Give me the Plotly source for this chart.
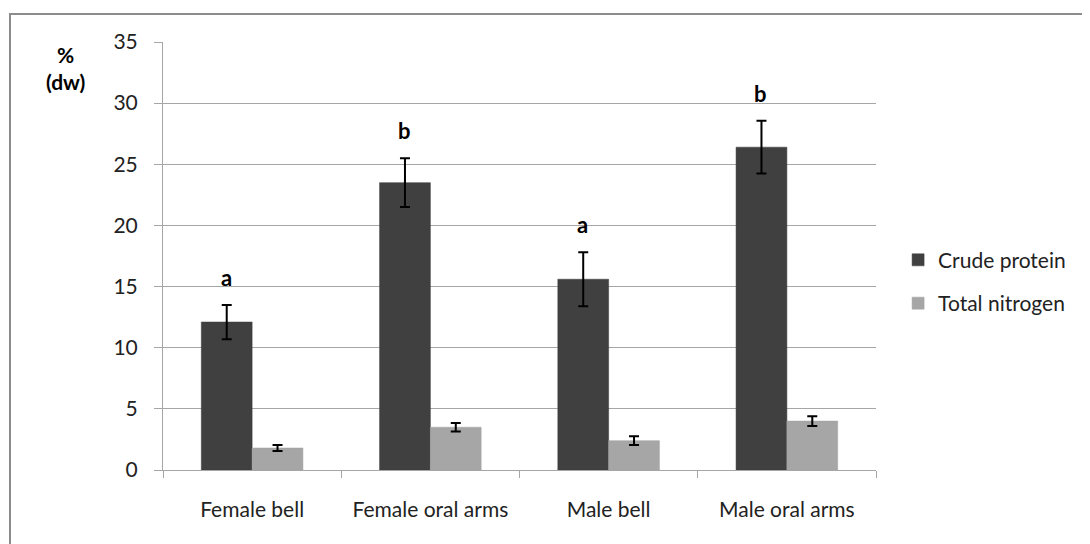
import plotly.graph_objects as go

categories = ["Female bell", "Female oral arms", "Male bell", "Male oral arms"]
crude_protein = [12.1, 23.5, 15.6, 26.4]
crude_protein_err = [1.4, 2.0, 2.2, 2.15]
total_nitrogen = [1.8, 3.5, 2.4, 4.0]
total_nitrogen_err = [0.25, 0.35, 0.35, 0.4]
letters = ["a", "b", "a", "b"]
y_ticks = [0, 5, 10, 15, 20, 25, 30, 35]

FONT = "Lato"
GRID = "#A6A6A6"

fig = go.Figure()
fig.add_trace(go.Bar(
    x=categories, y=crude_protein, name="Crude protein",
    marker=dict(color="#404040", line=dict(color="#3a3a3a", width=0.5)),
    error_y=dict(type="data", array=crude_protein_err, color="black", thickness=2, width=5),
    legendgroup="a",
))
fig.add_trace(go.Bar(
    x=categories, y=total_nitrogen, name="Total nitrogen",
    marker=dict(color="#A6A6A6", line=dict(color="#A0A0A0", width=0.5)),
    error_y=dict(type="data", array=total_nitrogen_err, color="black", thickness=2, width=5),
    legendgroup="b",
))

for c, v, e, t in zip(categories, crude_protein, crude_protein_err, letters):
    fig.add_annotation(x=c, y=v + e, text="<b>%s</b>" % t, showarrow=False,
                       xshift=-26, yshift=12, yanchor="bottom",
                       font=dict(family=FONT, size=22, color="black"))

fig.add_annotation(xref="paper", yref="paper", x=-0.137, y=0.94,
                   xanchor="center", yanchor="middle",
                   text="<b>%<br>(dw)</b>", showarrow=False,
                   font=dict(family=FONT, size=21, color="black"))

fig.add_shape(type="rect", xref="paper", yref="paper",
              x0=-0.2146, x1=1.5, y0=-0.5, y1=1.0654,
              line=dict(color="#8C8C8C", width=2), layer="below")

fig.update_layout(
    width=1090, height=544,
    margin=dict(l=155, r=222, t=34, b=82),
    paper_bgcolor="white", plot_bgcolor="white",
    barmode="group", bargap=0.43, bargroupgap=0,
    font=dict(family=FONT, size=20, color="#222"),
    showlegend=True,
    legend=dict(x=1.031, y=0.44, xanchor="left", yanchor="middle",
                traceorder="grouped", tracegroupgap=13,
                font=dict(family=FONT, size=21, color="#222")),
    xaxis=dict(type="category", showline=True, linecolor=GRID, linewidth=1,
               ticks="outside", tickson="boundaries", ticklen=7, tickcolor=GRID,
               showgrid=False, tickfont=dict(family=FONT, size=21, color="#222"),
               ticklabelstandoff=21),
    yaxis=dict(range=[0, 35], tickvals=y_ticks, showline=True, linecolor=GRID,
               linewidth=1, ticks="outside", ticklen=8, tickcolor=GRID,
               showgrid=True, gridcolor=GRID, gridwidth=1, zeroline=False,
               ticklabelstandoff=12,
               tickfont=dict(family=FONT, size=21, color="#222")),
)

fig.write_html("out.html")
